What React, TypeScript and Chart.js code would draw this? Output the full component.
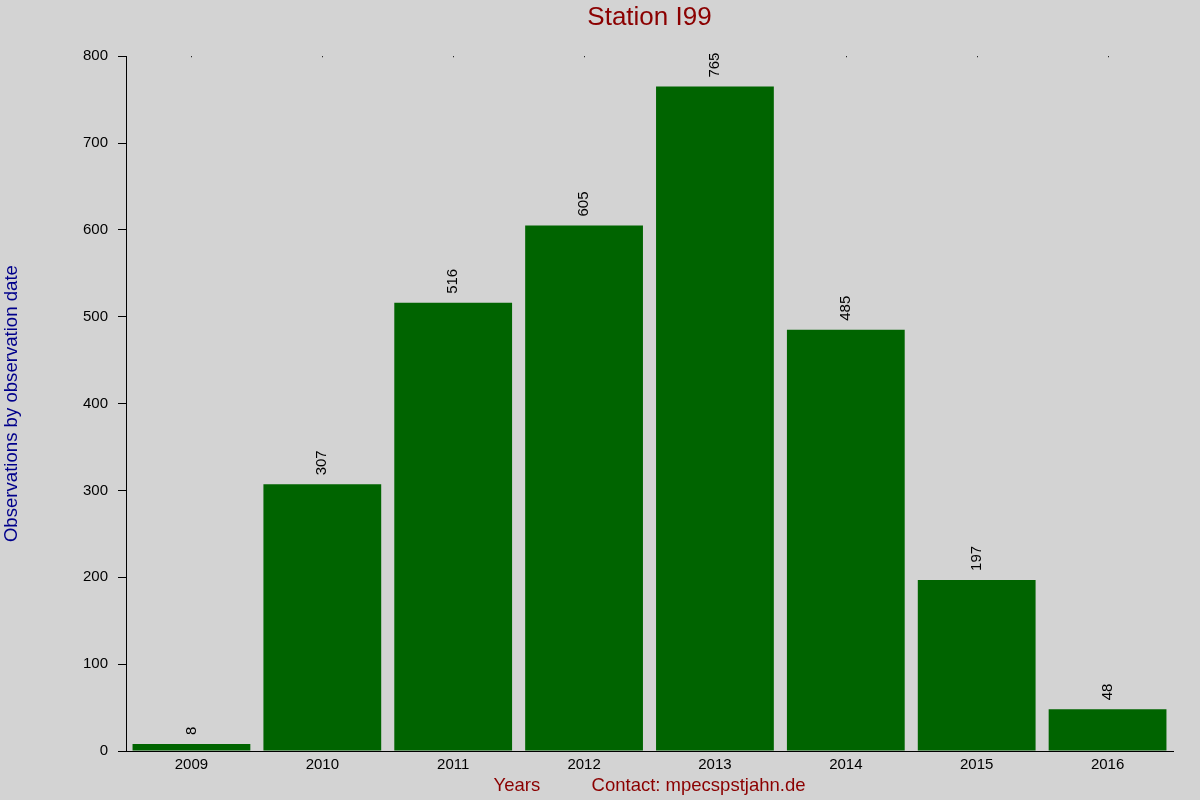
import React, { useEffect, useRef } from "react";
import { Chart, registerables } from "chart.js";

Chart.register(...registerables);

const years = ["2009", "2010", "2011", "2012", "2013", "2014", "2015", "2016"];
const observations = [8, 307, 516, 605, 765, 485, 197, 48];
const yMin = 0;
const yMax = 800;
const yStep = 100;

const FONT = "'Liberation Sans', Arial, Helvetica, sans-serif";
const BG = "#d3d3d3";

const valueLabels = {
  id: "valueLabels",
  afterDatasetsDraw(chart: any) {
    const ctx = chart.ctx;
    const meta = chart.getDatasetMeta(0);
    const data = chart.data.datasets[0].data;
    ctx.save();
    ctx.fillStyle = "#000";
    ctx.font = `15px ${FONT}`;
    ctx.textAlign = "left";
    ctx.textBaseline = "middle";
    meta.data.forEach((bar: any, i: number) => {
      ctx.save();
      ctx.translate(bar.x, bar.y - 9);
      ctx.rotate(-Math.PI / 2);
      ctx.fillText(String(data[i]), 0, 0);
      ctx.restore();
    });
    ctx.restore();
  },
};

const topDots = {
  id: "topDots",
  afterDraw(chart: any) {
    const ctx = chart.ctx;
    const xs = chart.scales.x;
    const top = chart.chartArea.top;
    ctx.save();
    ctx.fillStyle = "#000";
    years.forEach((_, i) => {
      const x = Math.round(xs.getPixelForValue(i));
      ctx.fillRect(x, top, 1, 1);
    });
    ctx.restore();
  },
};

export default function App() {
  const ref = useRef<HTMLCanvasElement>(null);

  useEffect(() => {
    if (!ref.current) return;
    const chart = new Chart(ref.current, {
      type: "bar",
      data: {
        labels: years,
        datasets: [
          {
            data: observations,
            backgroundColor: "#006400",
            borderWidth: 0,
            barPercentage: 0.9,
            categoryPercentage: 1,
          },
        ],
      },
      options: {
        animation: false,
        responsive: false,
        devicePixelRatio: 1,
        layout: { padding: { left: 0, right: 27, top: 0, bottom: 0 } },
        plugins: {
          legend: { display: false },
          tooltip: { enabled: false },
          title: {
            display: true,
            fullSize: false,
            text: "Station I99",
            color: "#8b0000",
            font: { family: FONT, size: 26, weight: "normal" },
            padding: { top: 2, bottom: 23 },
          },
        },
        scales: {
          x: {
            type: "category",
            offset: true,
            grid: { display: false, drawTicks: false },
            border: { display: true, color: "#000", width: 1 },
            ticks: {
              color: "#000",
              font: { family: FONT, size: 15 },
              padding: 5,
              maxRotation: 0,
            },
            title: {
              display: true,
              text: "Years" + "\u00a0".repeat(10) + "Contact: mpecspstjahn.de",
              color: "#8b0000",
              font: { family: FONT, size: 18.5 },
              padding: { top: 0, bottom: 3 },
            },
            afterFit(scale: any) {
              scale.height = 49;
            },
          },
          y: {
            min: yMin,
            max: yMax,
            grid: {
              display: true,
              drawOnChartArea: false,
              drawTicks: true,
              tickLength: 8,
              color: "#000",
            },
            border: { display: true, color: "#000", width: 1 },
            ticks: {
              stepSize: yStep,
              color: "#000",
              font: { family: FONT, size: 15 },
              padding: 10,
            },
            title: {
              display: true,
              text: "Observations by observation date",
              color: "#00008b",
              font: { family: FONT, size: 18.6 },
              padding: { top: 1, bottom: 0 },
            },
            afterFit(scale: any) {
              scale.width = 126;
            },
          },
        },
      },
      plugins: [valueLabels, topDots],
    });
    return () => chart.destroy();
  }, []);

  return (
    <div
      style={{
        position: "fixed",
        left: 0,
        top: 0,
        width: 1200,
        height: 800,
        background: BG,
      }}
    >
      <canvas ref={ref} width={1200} height={800} style={{ display: "block" }} />
    </div>
  );
}
